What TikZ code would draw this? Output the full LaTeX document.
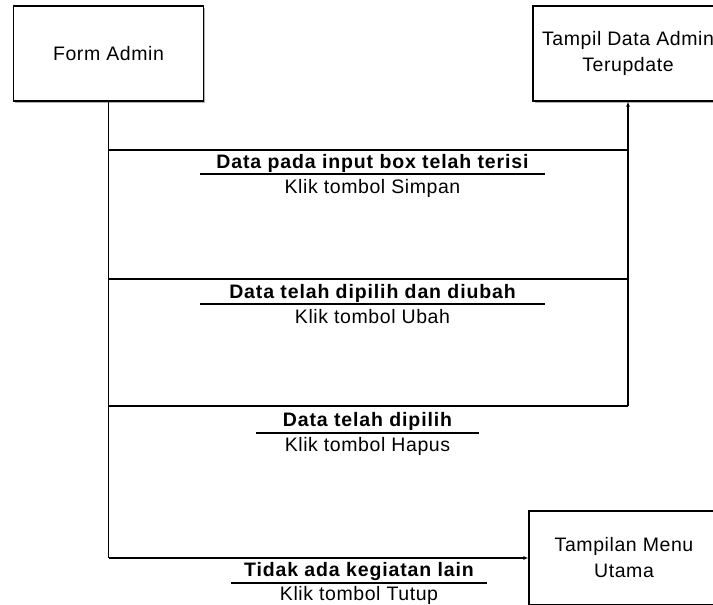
\documentclass[tikz,border=0pt]{standalone}
\usepackage{fontspec}
\setmainfont{Liberation Sans}[LetterSpace=3]
\newfontfamily\titlefont{Liberation Sans}[LetterSpace=4.5]
\usetikzlibrary{arrows.meta,positioning,shadows}

\tikzset{
  base/.style={font=\fontsize{19.5}{26}\selectfont},
  screen/.style={base, draw=black, line width=1.2pt, fill=white, align=center,
    minimum width=190pt, minimum height=95pt, inner sep=0pt,
    drop shadow={shadow xshift=1.6pt, shadow yshift=-1.6pt, fill=black!30, opacity=1}},
  flow/.style={line width=1.2pt, draw=black},
  flowarrow/.style={flow, -{Latex[length=5pt,width=4pt]}},
  cond/.style={font=\titlefont\bfseries\fontsize{19.5}{26}\selectfont,
    inner xsep=0pt, inner ysep=1.6pt, anchor=south},
  condline/.style={line width=2pt, draw=black},
  action/.style={base, inner sep=0pt, anchor=north},
}

\begin{document}
\begin{tikzpicture}[x=1pt,y=-1pt]
  \useasboundingbox (0,0) rectangle (713,605);
  \clip (0,0) rectangle (713,605);

  % screens
  \node[screen] (fa) at (108.5,53.5) {Form Admin};
  \node[screen] (td) at (628,53.5) {Tampil Data Admin\\Terupdate};
  \node[screen, minimum height=94pt] (tm) at (624,558) {Tampilan Menu\\Utama};

  % junction points of the flow lines
  \coordinate (l1) at (108.5,150);
  \coordinate (l2) at (108.5,279);
  \coordinate (l3) at (108.5,406);
  \coordinate (r1) at (td.south |- l1);
  \coordinate (r2) at (td.south |- l2);
  \coordinate (r3) at (td.south |- l3);
  \coordinate (bl) at (fa.south |- tm.west);

  % flow lines
  \draw[flow] (fa.south) -- (bl);
  \draw[flowarrow] (bl) -- (tm.west);
  \draw[flow] (l1) -- (r1);
  \draw[flow] (l2) -- (r2);
  \draw[flow] (l3) -- (r3);
  \draw[flowarrow] (r3) -- (td.south);

  % conditions and actions
  \node[cond, minimum width=345pt] (c1) at (372.5,174.3) {Data pada input box telah terisi};
  \draw[condline] (c1.south west) -- (c1.south east);
  \node[action, below=4.5pt of c1.south] (a1) {Klik tombol Simpan};

  \node[cond, minimum width=345pt] (c2) at (372.5,304.3) {Data telah dipilih dan diubah};
  \draw[condline] (c2.south west) -- (c2.south east);
  \node[action, below=4.5pt of c2.south] (a2) {Klik tombol Ubah};

  \node[cond, minimum width=223pt] (c3) at (367.5,432.5) {Data telah dipilih};
  \draw[condline] (c3.south west) -- (c3.south east);
  \node[action, below=4.5pt of c3.south] (a3) {Klik tombol Hapus};

  \node[cond, minimum width=256pt] (c4) at (359,582.5) {Tidak ada kegiatan lain};
  \draw[condline] (c4.south west) -- (c4.south east);
  \node[action, below=3.5pt of c4.south] (a4) {Klik tombol Tutup};
\end{tikzpicture}
\end{document}
